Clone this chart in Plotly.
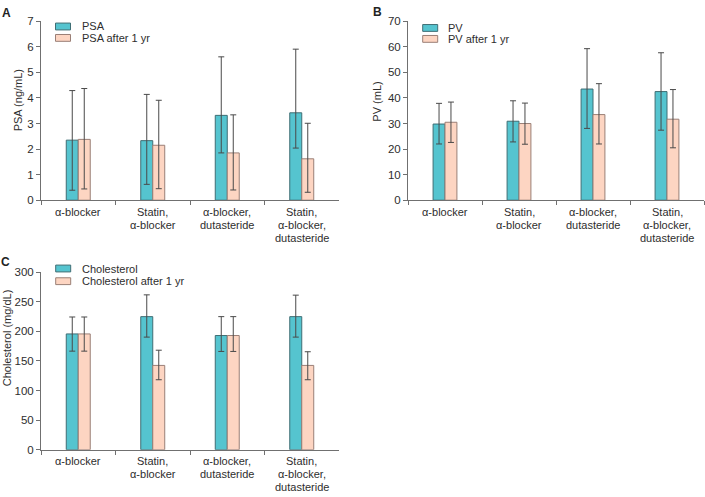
import plotly.graph_objects as go

W, H = 705, 497

categories = ["α-blocker", "Statin,<br>α-blocker", "α-blocker,<br>dutasteride",
              "Statin,<br>α-blocker,<br>dutasteride"]

# Panel A: PSA
psa = [2.35, 2.33, 3.32, 3.42]
psa_up = [1.94, 1.81, 2.29, 2.49]
psa_lo = [1.96, 1.71, 1.47, 1.38]
psa1 = [2.38, 2.15, 1.85, 1.62]
psa1_up = [1.99, 1.76, 1.49, 1.39]
psa1_lo = [1.94, 1.70, 1.45, 1.31]

# Panel B: PV
pv = [29.8, 30.9, 43.5, 42.5]
pv_up = [8.1, 8.0, 15.8, 15.2]
pv_lo = [7.8, 8.1, 15.4, 15.1]
pv1 = [30.5, 30.0, 33.5, 31.7]
pv1_up = [7.9, 8.0, 12.1, 11.6]
pv1_lo = [7.9, 8.1, 11.5, 11.2]

# Panel C: Cholesterol
chol = [195.6, 224.8, 192.9, 224.8]
chol_up = [28.6, 36.8, 31.9, 36.3]
chol_lo = [29.1, 34.6, 26.9, 34.6]
chol1 = [195.6, 142.4, 192.9, 142.4]
chol1_up = [28.6, 25.7, 31.9, 23.1]
chol1_lo = [29.1, 24.2, 26.9, 24.2]

names = [("PSA", "PSA after 1 yr"), ("PV", "PV after 1 yr"),
         ("Cholesterol", "Cholesterol after 1 yr")]
ytitles = ["PSA (ng/mL)", "PV (mL)", "Cholesterol (mg/dL)"]
yranges = [(0, 7, 1), (0, 70, 10), (0, 300, 50)]
panel_letters = ["A", "B", "C"]

TEAL = "#55C4CF"
TEAL_LINE = "#3F6E74"
SALMON = "#FDD5C2"
SALMON_LINE = "#9A7F76"
ERR = "#4A4A4A"
TXT = "#2E2E2E"
AX = "#707070"
FONT = "Liberation Sans, Arial, sans-serif"

def px(x):
    return x / W

def py(y):
    return 1 - y / H

# plot areas in pixels (left, right, top, bottom)
areas = [(41, 339, 15.7, 199), (408, 704, 15.7, 199), (41, 339, 272.7, 454.7)]
# y-axis title centre positions in pixels
ytitle_pos = [(18, 96.7), (377, 98), (6.5, 340)]

data_sets = [
    (psa, psa_up, psa_lo, psa1, psa1_up, psa1_lo),
    (pv, pv_up, pv_lo, pv1, pv1_up, pv1_lo),
    (chol, chol_up, chol_lo, chol1, chol1_up, chol1_lo),
]

fig = go.Figure()
for i, (v0, u0, l0, v1, u1, l1) in enumerate(data_sets):
    xa = "x" if i == 0 else f"x{i+1}"
    ya = "y" if i == 0 else f"y{i+1}"
    fig.add_trace(go.Bar(
        x=categories, y=v0, name=names[i][0], xaxis=xa, yaxis=ya,
        marker=dict(color=TEAL, line=dict(color=TEAL_LINE, width=1)),
        error_y=dict(type="data", symmetric=False, array=u0, arrayminus=l0,
                     color=ERR, thickness=1, width=3),
        offsetgroup="a", showlegend=False))
    fig.add_trace(go.Bar(
        x=categories, y=v1, name=names[i][1], xaxis=xa, yaxis=ya,
        marker=dict(color=SALMON, line=dict(color=SALMON_LINE, width=1)),
        error_y=dict(type="data", symmetric=False, array=u1, arrayminus=l1,
                     color=ERR, thickness=1, width=3),
        offsetgroup="b", showlegend=False))

layout = dict(
    width=W, height=H, margin=dict(l=0, r=0, t=0, b=0),
    paper_bgcolor="white", plot_bgcolor="white",
    barmode="group", bargap=0.678, bargroupgap=0,
    font=dict(family=FONT, size=11, color=TXT),
)

annotations = []
for i, (l, r, t, b) in enumerate(areas):
    xk = "xaxis" if i == 0 else f"xaxis{i+1}"
    yk = "yaxis" if i == 0 else f"yaxis{i+1}"
    xa = "x" if i == 0 else f"x{i+1}"
    ya = "y" if i == 0 else f"y{i+1}"
    lo, hi, dt = yranges[i]
    layout[xk] = dict(domain=[px(l), px(r)], anchor=ya, type="category",
                      showline=True, linecolor=AX, linewidth=1,
                      ticks="outside", ticklen=4, tickcolor=AX, tickson="boundaries",
                      showgrid=False, zeroline=False, showticklabels=False)
    layout[yk] = dict(domain=[py(b), py(t)], anchor=xa, range=[lo, hi], dtick=dt,
                      showline=True, linecolor=AX, linewidth=1,
                      ticks="outside", ticklen=4, tickcolor=AX,
                      showgrid=False, zeroline=False,
                      tickfont=dict(size=11.5, color=TXT))
    # category labels, one line at a time for tight line spacing
    for cat in categories:
        for k, line in enumerate(cat.split("<br>")):
            annotations.append(dict(xref=xa, yref="paper", x=cat, y=py(b + 12 + 13.3 * k),
                                    xanchor="center", yanchor="middle", showarrow=False,
                                    text=line, font=dict(size=11, color=TXT)))
    tx, ty = ytitle_pos[i]
    annotations.append(dict(xref="paper", yref="paper", x=px(tx), y=py(ty),
                            xanchor="center", yanchor="middle", showarrow=False,
                            textangle=-90, text=ytitles[i],
                            font=dict(size=11, color=TXT)))

fig.update_layout(**layout)

# Manual legends (swatch boxes + labels) and panel letters
legend_pos = [  # swatch left x, row centers y, text x
    (55.5, (21.0, 32.7), 80),
    (422.7, (22.5, 33.7), 445.5),
    (55.7, (269.0, 282.0), 79.5),
]
shapes = []
for i, (sx, rows, tx) in enumerate(legend_pos):
    for j, cy in enumerate(rows):
        fill = TEAL if j == 0 else SALMON
        line = TEAL_LINE if j == 0 else SALMON_LINE
        shapes.append(dict(type="rect", xref="paper", yref="paper",
                           x0=px(sx), x1=px(sx + 15), y0=py(cy + 3.5), y1=py(cy - 3.5),
                           fillcolor=fill, line=dict(color=line, width=1)))
        annotations.append(dict(xref="paper", yref="paper", x=px(tx), y=py(cy),
                                xanchor="left", yanchor="middle", showarrow=False,
                                text=names[i][j], font=dict(size=11, color=TXT)))

letter_pos = [(6, 7), (377, 6), (5, 262.5)]
for k, (lx, ly) in enumerate(letter_pos):
    annotations.append(dict(xref="paper", yref="paper", x=px(lx), y=py(ly),
                            xanchor="center", yanchor="middle", showarrow=False,
                            text=f"<b>{panel_letters[k]}</b>",
                            font=dict(size=12, color="#222222")))

fig.update_layout(shapes=shapes, annotations=annotations)
fig.write_html("out.html", config={"displayModeBar": False},
               post_script="document.body.style.margin='0';document.body.style.overflow='hidden';")
